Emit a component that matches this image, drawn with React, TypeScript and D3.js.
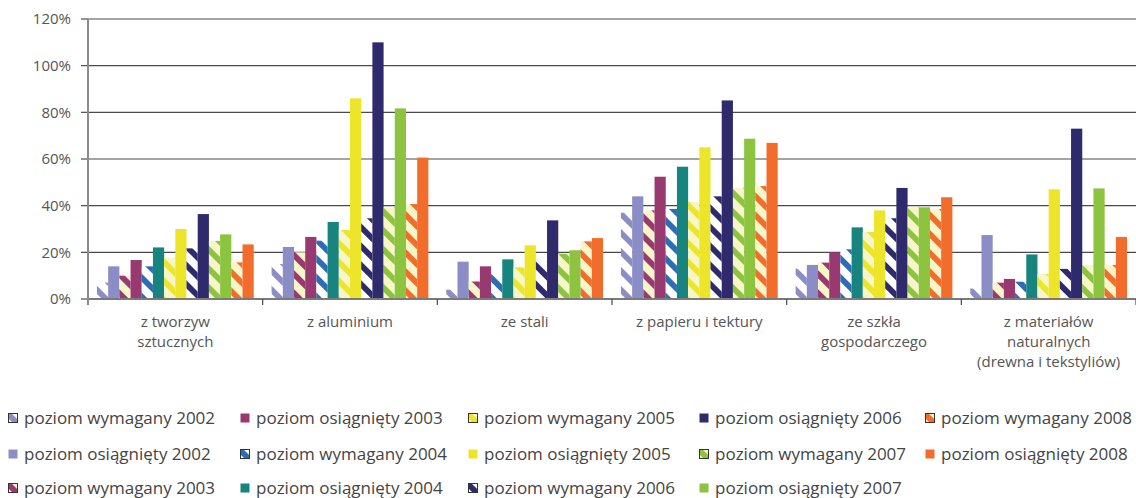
import React from 'react';
import * as d3 from 'd3';

const categories = [
  ['z tworzyw', 'sztucznych'],
  ['z aluminium'],
  ['ze stali'],
  ['z papieru i tektury'],
  ['ze szkła', 'gospodarczego'],
  ['z materiałów', 'naturalnych', '(drewna i tekstyliów)'],
];

const years = [2002, 2003, 2004, 2005, 2006, 2007, 2008];

// poziom wymagany (required) per category
const wym2002 = [7, 15, 4, 37, 13, 4.5];
const wym2003 = [10, 20, 7.5, 38, 15.6, 7];
const wym2004 = [14, 25, 10.6, 38.6, 21.3, 7.4];
const wym2005 = [17.7, 29.6, 13.6, 41.6, 28.7, 10.7];
const wym2006 = [21.7, 34.6, 16.1, 44, 34.6, 12.9];
const wym2007 = [24.9, 39.3, 19.4, 47.7, 39.3, 14.6];
const wym2008 = [15.7, 40.7, 24.7, 48.4, 38.6, 14.6];

// poziom osiągnięty (achieved) per category
const osi2002 = [14, 22.3, 16, 44, 14.6, 27.4];
const osi2003 = [16.7, 26.6, 14, 52.4, 20, 8.6];
const osi2004 = [22.1, 33, 17, 56.7, 30.7, 19.1];
const osi2005 = [30, 86, 23, 65, 38, 47];
const osi2006 = [36.4, 110, 33.7, 85.1, 47.6, 73];
const osi2007 = [27.7, 81.7, 20.9, 68.7, 39.3, 47.4];
const osi2008 = [23.4, 60.6, 26.1, 66.9, 43.6, 26.6];

const required = [wym2002, wym2003, wym2004, wym2005, wym2006, wym2007, wym2008];
const achieved = [osi2002, osi2003, osi2004, osi2005, osi2006, osi2007, osi2008];

const yTicks = [0, 20, 40, 60, 80, 100, 120];

// colours per year
const solidColors = ['#8b8ec6', '#983a70', '#17847f', '#ece52a', '#2e2a6c', '#8cc43f', '#f26d2b'];
const stripeColors = ['#8b8ec6', '#983a70', '#2d6db3', '#ece52a', '#2e2a6c', '#8cc43f', '#f26d2b'];
const stripeBgs = ['#ffffff', '#f7f6c8', '#ffffff', '#f7f6c8', '#ffffff', '#f7f6c8', '#f7f6c8'];

type Series = { key: string; label: string; values: number[]; yi: number; hatched: boolean };

const series: Series[] = [];
years.forEach((yr, i) => {
  series.push({ key: `w${yr}`, label: `poziom wymagany ${yr}`, values: required[i], yi: i, hatched: true });
  series.push({ key: `o${yr}`, label: `poziom osiągnięty ${yr}`, values: achieved[i], yi: i, hatched: false });
});

const W = 1136;
const H = 498;
const margin = { top: 19, right: 0, bottom: 199, left: 88 };
const FONT = '"Open Sans", "Noto Sans", sans-serif';

export default function App() {
  const plotW = W - margin.left - margin.right;
  const plotH = H - margin.top - margin.bottom;

  const x0 = d3.scaleBand<number>()
    .domain(categories.map((_, i) => i))
    .range([margin.left, margin.left + plotW])
    .padding(0);

  const x1 = d3.scaleBand<string>()
    .domain(series.map(s => s.key))
    .range([0, x0.bandwidth()])
    .paddingInner(0)
    .paddingOuter(0.8);

  const y = d3.scaleLinear().domain([0, 120]).range([margin.top + plotH, margin.top]);

  const fillFor = (s: Series) => (s.hatched ? `url(#hatch${s.yi})` : solidColors[s.yi]);

  // legend: 3 rows, column-major
  const legendCols = [8, 240, 468, 699, 925];
  const legendRows = [418, 454, 488];

  const period = 19 / Math.SQRT2;

  return (
    <svg width={W} height={H} style={{ position: 'absolute', left: 0, top: 0, background: '#fff' }}>
      <defs>
        {years.map((_, i) => (
          <pattern
            key={i}
            id={`hatch${i}`}
            patternUnits="userSpaceOnUse"
            width={period}
            height={period}
            patternTransform="rotate(-45)"
          >
            <rect width={period} height={period} fill={stripeBgs[i]} />
            <rect width={period * 0.43} height={period} fill={stripeColors[i]} />
          </pattern>
        ))}
      </defs>

      {/* gridlines */}
      {yTicks.filter(t => t > 0).map(t => (
        <line key={t} x1={margin.left} x2={W} y1={y(t)} y2={y(t)} stroke="#4a4a4a" strokeWidth={1.2} />
      ))}

      {/* y tick labels and ticks */}
      {yTicks.map(t => (
        <g key={`yt${t}`}>
          <line x1={margin.left - 7} x2={margin.left} y1={y(t)} y2={y(t)} stroke="#4a4a4a" strokeWidth={1.2} />
          <text
            x={71}
            y={y(t)}
            dy="0.35em"
            textAnchor="end"
            fontFamily={FONT}
            fontSize={15}
            fill="#555"
          >
            {t}%
          </text>
        </g>
      ))}

      {/* bars */}
      {categories.map((_, ci) => (
        <g key={ci} transform={`translate(${x0(ci)},0)`}>
          {series.map(s => (
            <rect
              key={s.key}
              x={x1(s.key)}
              y={y(s.values[ci])}
              width={x1.bandwidth()}
              height={y(0) - y(s.values[ci])}
              fill={fillFor(s)}
            />
          ))}
        </g>
      ))}

      {/* axes */}
      <line x1={margin.left} x2={W} y1={y(0)} y2={y(0)} stroke="#7a7a7a" strokeWidth={2} />
      <line x1={margin.left} x2={margin.left} y1={margin.top} y2={y(0) + 6} stroke="#8a8a8a" strokeWidth={2} />
      {categories.map((_, ci) => (
        <line
          key={`ct${ci}`}
          x1={(x0(ci) as number) + x0.bandwidth()}
          x2={(x0(ci) as number) + x0.bandwidth()}
          y1={y(0)}
          y2={y(0) + 6}
          stroke="#4a4a4a"
          strokeWidth={1.2}
        />
      ))}

      {/* category labels */}
      {categories.map((lines, ci) => (
        <text
          key={`cl${ci}`}
          x={(x0(ci) as number) + x0.bandwidth() / 2}
          y={y(0) + 28}
          textAnchor="middle"
          fontFamily={FONT}
          fontSize={15}
          fill="#555"
        >
          {lines.map((ln, li) => (
            <tspan key={li} x={(x0(ci) as number) + x0.bandwidth() / 2} dy={li === 0 ? 0 : 20}>
              {ln}
            </tspan>
          ))}
        </text>
      ))}

      {/* legend */}
      {series.map((s, i) => {
        const col = Math.floor(i / 3);
        const row = i % 3;
        const lx = legendCols[col];
        const ly = legendRows[row];
        return (
          <g key={`lg${s.key}`} transform={`translate(${lx},${ly})`}>
            <rect
              x={0.5}
              y={-4.5}
              width={9}
              height={9}
              fill={fillFor(s)}
              stroke={s.hatched ? '#333' : 'none'}
              strokeWidth={1}
            />
            <text x={16} y={0} dy="0.35em" fontFamily={FONT} fontSize={17} fill="#444">
              {s.label}
            </text>
          </g>
        );
      })}
    </svg>
  );
}
